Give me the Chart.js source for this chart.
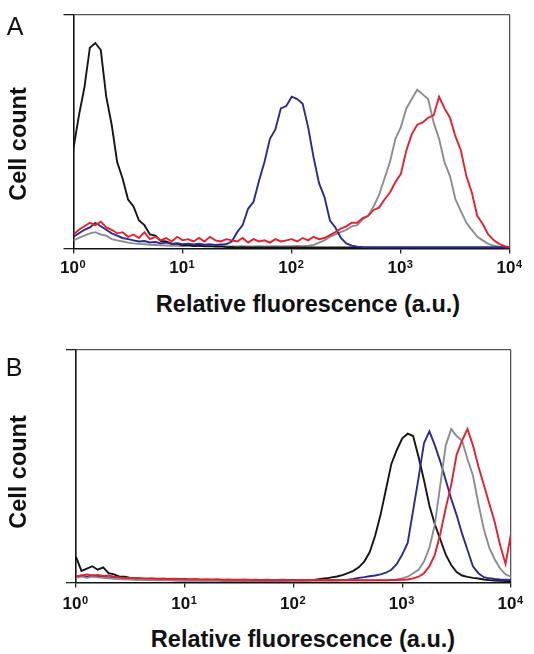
<!DOCTYPE html>
<html>
<head>
<meta charset="utf-8">
<script src="https://cdn.jsdelivr.net/npm/chart.js@4"></script>
<style>
  body { margin: 0; background: #fff; width: 534px; height: 654px; position: relative; overflow: hidden;
         font-family: "Liberation Sans", Arial, Helvetica, sans-serif; color: #111; }
  canvas { position: absolute; left: 0; }
  .lbl { position: absolute; white-space: nowrap; line-height: 1; transform: translate(-50%, -50%); }
  .panel { font-size: 25px; }
  .title { font-size: 23.5px; font-weight: bold; }
  .ytitle { font-size: 23.5px; font-weight: bold; transform: translate(-50%, -50%) rotate(-90deg); }
</style>
</head>
<body>
<canvas id="chartA" width="534" height="290" style="top:0px"></canvas>
<canvas id="chartB" width="534" height="290" style="top:330px"></canvas>

<div class="lbl panel" style="left:15px;top:26px">A</div>
<div class="lbl ytitle" style="left:19px;top:144px">Cell count</div>
<div class="lbl title" style="left:308px;top:305px">Relative fluorescence (a.u.)</div>

<div class="lbl panel" style="left:14px;top:367px">B</div>
<div class="lbl ytitle" style="left:19px;top:472px">Cell count</div>
<div class="lbl title" style="left:303px;top:640px">Relative fluorescence (a.u.)</div>

<script>
// log10 of fluorescence, one value every 0.05 decade
const decades = [
  0, 0.05, 0.1, 0.15, 0.2, 0.25, 0.3, 0.35, 0.4, 0.45,
  0.5, 0.55, 0.6, 0.65, 0.7, 0.75, 0.8, 0.85, 0.9, 0.95,
  1, 1.05, 1.1, 1.15, 1.2, 1.25, 1.3, 1.35, 1.4, 1.45,
  1.5, 1.55, 1.6, 1.65, 1.7, 1.75, 1.8, 1.85, 1.9, 1.95,
  2, 2.05, 2.1, 2.15, 2.2, 2.25, 2.3, 2.35, 2.4, 2.45,
  2.5, 2.55, 2.6, 2.65, 2.7, 2.75, 2.8, 2.85, 2.9, 2.95,
  3, 3.05, 3.1, 3.15, 3.2, 3.25, 3.3, 3.35, 3.4, 3.45,
  3.5, 3.55, 3.6, 3.65, 3.7, 3.75, 3.8, 3.85, 3.9, 3.95,
  4
];
const tickBase = "10";
const tickExponents = ["0", "1", "2", "3", "4"];

// panel A, cell count (% of axis height)
const countA_black = [
  43, 57, 69, 86, 88, 85, 65, 53, 37, 30,
  21, 18, 12, 10, 6, 5.5, 3.2, 3, 2, 2.1,
  1.4, 1.6, 1.1, 1.3, 0.9, 1.0, 0.8, 0.9, 0.6, 0.7,
  0.5, 0.6, 0.5, 0.4, 0.5, 0.4, 0.5, 0.4, 0.4, 0.5,
  0.4, 0.4, 0.5, 0.4, 0.4, 0.4, 0.5, 0.4, 0.4, 0.4,
  0.4, 0.4, 0.4, 0.4, 0.4, 0.4, 0.4, 0.4, 0.4, 0.4,
  0.4, 0.4, 0.4, 0.4, 0.4, 0.4, 0.4, 0.4, 0.4, 0.4,
  0.4, 0.4, 0.4, 0.4, 0.4, 0.4, 0.4, 0.4, 0.4, 0.4,
  0.4
];
const countA_blue = [
  5, 6.5, 8, 9, 11, 9.5, 8, 6.5, 5.5, 4.5,
  4, 3.5, 3, 3.2, 2.6, 2.8, 2.2, 2.5, 2, 2.3,
  1.8, 2.1, 1.7, 2, 1.6, 1.8, 1.5, 1.7, 1.8, 3,
  7, 10, 17, 20, 29, 37, 47, 51, 60, 61,
  65, 64, 62, 52, 39, 28, 22, 12, 9, 4.5,
  2.2, 1.2, 0.8, 0.6, 0.5, 0.5, 0.4, 0.4, 0.4, 0.4,
  0.4, 0.4, 0.4, 0.4, 0.4, 0.4, 0.4, 0.4, 0.4, 0.4,
  0.4, 0.4, 0.4, 0.4, 0.4, 0.4, 0.4, 0.4, 0.4, 0.4,
  0.4
];
const countA_gray = [
  3.5, 4.5, 5.5, 6.5, 7, 6, 5.5, 4, 3.5, 3,
  2.5, 2.2, 2, 1.8, 1.6, 1.5, 1.4, 1.3, 1.2, 1.2,
  1.1, 1.2, 1, 1.1, 1, 1, 0.9, 1, 0.9, 0.9,
  0.9, 1, 0.9, 0.9, 1, 0.9, 0.9, 1, 0.9, 1,
  1, 1.1, 1, 1.2, 1.5, 2.5, 3.5, 5, 6, 7,
  8, 9.5, 10, 12.5, 14, 18, 23, 30, 37, 47,
  52, 60, 64, 68, 66, 64, 54, 47, 37, 31,
  21, 16, 11, 8, 5, 3.5, 2, 1.2, 0.8, 0.5,
  0.4
];
const countA_red = [
  6, 8, 9.5, 11, 10, 11.5, 9, 8, 6.5, 7,
  5, 6, 4.5, 7, 4, 5, 3.5, 4.5, 3, 5,
  3.5, 4, 3, 4.5, 3, 5, 3.5, 3, 4, 3.5,
  3, 4.5, 2.5, 4, 3, 3.5, 2.5, 4, 3, 3.5,
  4, 3, 4.5, 3.5, 5, 4, 4.5, 5.7, 7, 8.5,
  9.5, 11, 11, 13, 14, 16.5, 17.5, 21, 24, 28.5,
  32, 42, 49, 53, 54, 56, 57, 65, 60, 56,
  48, 42, 31, 24, 14, 10.5, 6, 3.6, 2, 1,
  0.6
];

// panel B
const countB_black = [
  11, 5, 6, 7, 5.5, 6.5, 4, 3.5, 2.5, 2.5,
  2, 1.8, 1.6, 1.5, 1.4, 1.3, 1.2, 1.2, 1.1, 1,
  1, 1, 0.9, 1, 0.9, 0.9, 0.9, 0.8, 0.9, 0.8,
  0.8, 0.8, 0.8, 0.8, 0.8, 0.8, 0.8, 0.8, 0.8, 0.8,
  0.9, 0.9, 1, 1, 1.2, 1.5, 1.8, 2.2, 2.6, 3.2,
  4, 5, 6.5, 9, 13, 20, 29, 40, 51, 57,
  62, 64, 63, 54, 44, 33, 25, 18.5, 12, 7.5,
  4.5, 3, 2.4, 2, 1.7, 1.3, 1, 0.8, 0.7, 0.6,
  0.6
];
const countB_blue = [
  2.5, 3, 2.5, 3, 2.8, 2.5, 2.2, 2, 1.8, 1.6,
  1.5, 1.4, 1.4, 1.3, 1.2, 1.2, 1.1, 1.1, 1, 1,
  1, 0.9, 1, 0.9, 0.9, 1, 0.9, 0.9, 0.9, 0.9,
  0.9, 0.9, 0.9, 0.9, 0.9, 0.9, 0.9, 0.9, 0.9, 0.9,
  0.9, 0.9, 0.9, 0.9, 0.9, 0.9, 1, 1, 1, 1.1,
  1.2, 1.5, 2, 2.3, 2.7, 3, 3.5, 4.2, 5.5, 8,
  12, 17, 31, 45, 60, 65, 59, 52, 44, 36,
  29, 21, 14, 7, 4, 2.3, 1.8, 1.5, 1.3, 1.2,
  1.1
];
const countB_gray = [
  2, 2.5, 2, 2.5, 2.2, 2, 1.8, 1.6, 1.5, 1.4,
  1.3, 1.2, 1.2, 1.1, 1.1, 1, 1, 1, 1, 1,
  0.9, 0.9, 0.9, 0.9, 0.9, 0.9, 0.9, 0.9, 0.9, 0.9,
  0.9, 0.9, 0.9, 0.9, 0.9, 0.9, 0.9, 0.9, 0.9, 0.9,
  0.9, 0.9, 0.9, 0.9, 0.9, 0.9, 0.9, 0.9, 0.9, 0.9,
  0.9, 0.9, 0.9, 0.9, 0.9, 0.9, 0.9, 0.9, 1, 1.3,
  1.8, 2.5, 4, 5.5, 9, 15, 25, 42, 59, 66,
  63, 61, 53, 46, 34, 23, 15, 10, 6, 3.5,
  2.5
];
const countB_red = [
  2.5, 3, 3.5, 3, 3.2, 2.8, 3, 2.5, 2.2, 2,
  2, 1.8, 1.9, 1.7, 1.8, 1.6, 1.7, 1.5, 1.6, 1.5,
  1.5, 1.4, 1.5, 1.3, 1.4, 1.3, 1.4, 1.2, 1.3, 1.2,
  1.2, 1.3, 1.1, 1.2, 1.1, 1.2, 1.1, 1.1, 1.2, 1.1,
  1.1, 1, 1.1, 1, 1.1, 1, 1, 1.1, 1, 1,
  1, 1, 1, 1, 1, 1, 1, 1, 1.1, 1.1,
  1.2, 1.3, 1.8, 2.5, 4, 7, 12, 21, 32, 42,
  55, 61, 66, 59, 50, 42, 34, 26, 16, 8,
  21
];

const RED = "#e5202e", BLUE = "#2a2b8e", BLACK = "#151515", GRAY = "#8b8e91";
const FONT = '"Liberation Sans", Arial, Helvetica, sans-serif';
const TICK_SIZE = 17, TICK_LEN = 5, LABEL_SHIFT = -4;

function points(values) {
  return decades.map((d, i) => ({ x: d, y: values[i] }));
}

// writes the small raised exponent after each "10" tick label
const exponentPlugin = {
  id: "exponents",
  afterDraw(chart, args, opts) {
    const s = chart.scales.x;
    const ctx = chart.ctx;
    const y = s.top + TICK_LEN + opts.pad + TICK_SIZE * 0.6 - 1;
    ctx.save();
    ctx.fillStyle = "#111";
    ctx.font = "bold 11px " + FONT;
    ctx.textAlign = "left";
    ctx.textBaseline = "alphabetic";
    s.ticks.forEach(t => {
      const x = s.getPixelForValue(t.value) + LABEL_SHIFT + TICK_SIZE * 0.556 + 0.5;
      ctx.fillText(tickExponents[Math.round(t.value)], x, y);
    });
    ctx.restore();
  }
};

// first series in the list is drawn on top
function makeChart(id, series, box) {
  const datasets = series.map(s => ({
    data: points(s.values),
    borderColor: s.color,
    borderWidth: 1.9,
    pointRadius: 0,
    tension: 0,
    fill: false
  }));

  return new Chart(document.getElementById(id), {
    type: "line",
    data: { datasets: datasets },
    plugins: [exponentPlugin],
    options: {
      responsive: false,
      animation: false,
      devicePixelRatio: 1,
      layout: { padding: { left: 0, top: box.top, right: 534 - box.right, bottom: 0 } },
      plugins: {
        legend: { display: false },
        tooltip: { enabled: false },
        exponents: { pad: box.labelPad }
      },
      scales: {
        x: {
          type: "linear", min: 0, max: 4,
          ticks: {
            stepSize: 1, padding: box.labelPad, color: "#111", maxRotation: 0, autoSkip: false,
            labelOffset: LABEL_SHIFT,
            font: { family: FONT, size: TICK_SIZE, weight: "bold" },
            callback: () => tickBase
          },
          grid: {
            drawOnChartArea: true,
            color: c => (c.tick && c.tick.value === 4 ? "#555" : "rgba(0,0,0,0)"),
            lineWidth: 1.3, tickColor: "#222", tickLength: TICK_LEN, tickWidth: 1.3
          },
          border: { color: "#111", width: 1.6 },
          afterFit: s => { s.height = box.height - box.bottom; s.paddingLeft = 0; s.paddingRight = 0; }
        },
        y: {
          min: 0, max: 100,
          ticks: { stepSize: 100, display: false },
          grid: {
            drawOnChartArea: true,
            color: c => (c.tick && c.tick.value === 100 ? "#555" : "rgba(0,0,0,0)"),
            lineWidth: 1.3, tickColor: "#222", tickLength: 10, tickWidth: 1.3
          },
          border: { color: "#111", width: 1.6 },
          afterFit: s => { s.width = box.left; s.paddingTop = 0; s.paddingBottom = 0; }
        }
      }
    }
  });
}

makeChart("chartA", [
  { values: countA_red, color: RED },
  { values: countA_blue, color: BLUE },
  { values: countA_black, color: BLACK },
  { values: countA_gray, color: GRAY }
], { left: 73.5, right: 510, top: 15, bottom: 248.5, height: 290, labelPad: 5 });

makeChart("chartB", [
  { values: countB_red, color: RED },
  { values: countB_gray, color: GRAY },
  { values: countB_blue, color: BLUE },
  { values: countB_black, color: BLACK }
], { left: 76, right: 511, top: 20, bottom: 252.5, height: 290, labelPad: 7 });
</script>
</body>
</html>
